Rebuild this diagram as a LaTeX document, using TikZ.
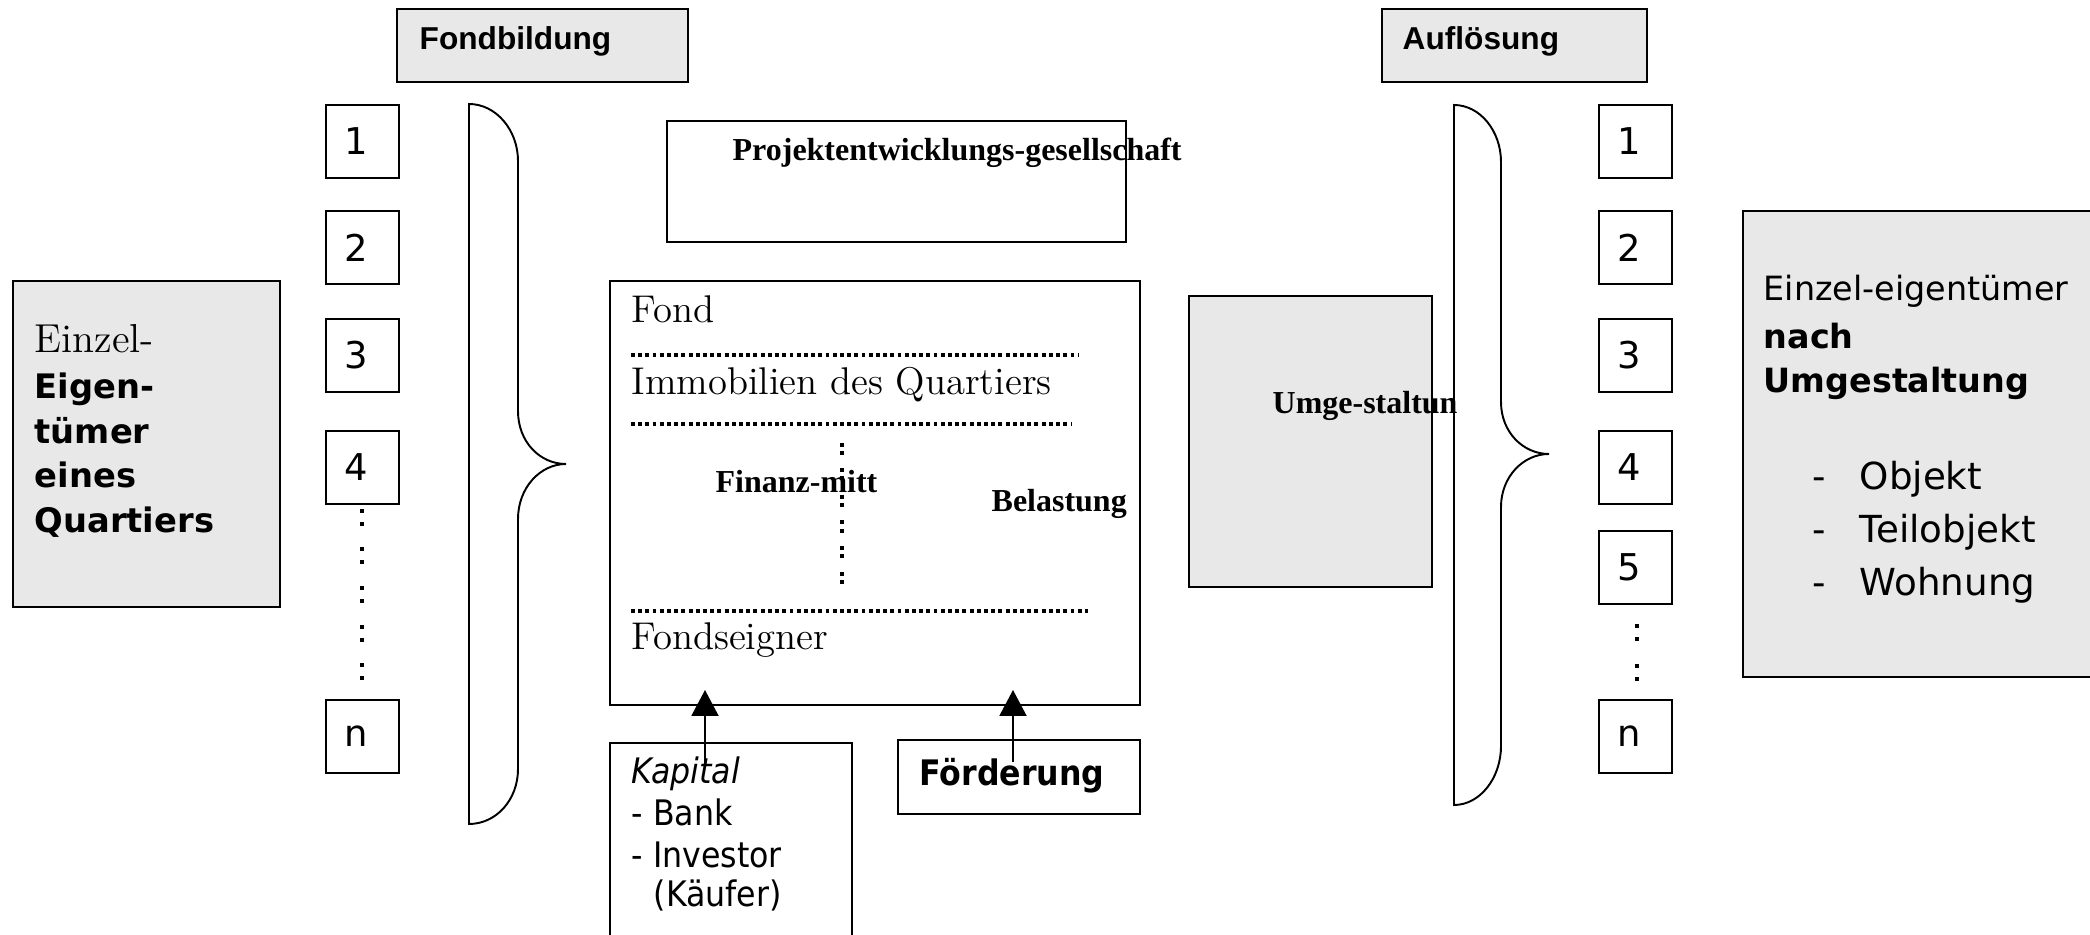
\documentclass[tikz,border=0pt]{standalone}
\usepackage{fontspec}
\newfontfamily\verdfont{DejaVu Sans}
\newfontfamily\tahofont{DejaVu Sans Condensed}
\newfontfamily\arialfont{Liberation Sans}
\newfontfamily\timesfont{Liberation Serif}
\usetikzlibrary{arrows.meta, positioning, calc}

\begin{document}
\begin{tikzpicture}[x=0.1mm, y=-0.1mm,
  box/.style={draw, line width=0.45pt, inner sep=0pt, anchor=north west},
  grey/.style={box, fill=gray!18},
  num/.style={box, minimum width=7.3mm, minimum height=7.35mm, font=\verdfont\fontsize{10.5}{12}\selectfont},
  lbl/.style={inner sep=0pt, anchor=base west},
  hdr/.style={lbl, font=\arialfont\bfseries\fontsize{9}{11}\selectfont},
  srf/.style={lbl, font=\fontsize{11}{13}\selectfont},
  tms/.style={lbl, font=\timesfont\bfseries\fontsize{9.1}{11}\selectfont},
  vrd/.style={lbl, font=\verdfont\fontsize{9.5}{12}\selectfont},
  tho/.style={lbl, font=\tahofont\fontsize{10}{12}\selectfont},
  dotline/.style={line width=1.1pt, dash pattern=on 1.1pt off 0.95pt},
  arr/.style={-{Triangle[width=2.7mm, length=2.6mm]}, line width=0.6pt},
  brace/.style={line width=0.55pt, fill=white}]

  \useasboundingbox (0,0) rectangle (2090,935);

  % --- phase headers ---
  \node[grey, minimum width=29.1mm, minimum height=7.3mm] (bildBox) at (396,8) {};
  \node[hdr] (bildTxt) at (419,50) {Fondbildung};
  \node[grey, minimum width=26.5mm, minimum height=7.3mm] (aufBox) at (1381,8) {};
  \node[hdr] (aufTxt) at (1402,50) {Auflösung};

  % --- owners before ---
  \node[grey, minimum width=26.7mm, minimum height=32.6mm] (ownBox) at (12,280) {};
  \node[lbl, font=\fontsize{11.5}{13}\selectfont] (own1) at (34,353) {Einzel-};
  \node[vrd, font=\verdfont\bfseries\fontsize{9.6}{12}\selectfont] (own2) at (34,399) {Eigen-};
  \node[vrd, font=\verdfont\bfseries\fontsize{9.6}{12}\selectfont] (own3) at (34,444) {tümer};
  \node[vrd, font=\verdfont\bfseries\fontsize{9.6}{12}\selectfont] (own4) at (34,488) {eines};
  \node[vrd, font=\verdfont\bfseries\fontsize{9.6}{12}\selectfont] (own5) at (34,533) {Quartiers};

  % --- numbered parcels ---
  \foreach \t/\y in {1/104, 2/210, 3/318, 4/430, n/699}
    \node[num] (lp\t) at (325,\y) {\t\kern1.2mm};
  \foreach \t/\y in {1/104, 2/210, 3/318, 4/430, 5/530, n/699}
    \node[num] (rp\t) at (1598,\y) {\t\kern1.2mm};
  \foreach \y in {511, 524, 549, 562, 588, 601, 627, 640, 665, 678}
    \fill (360,\y-2) rectangle (364,\y+2);
  \foreach \y in {626, 639, 666, 679}
    \fill (1635,\y-2) rectangle (1639,\y+2);

  % --- braces ---
  \draw[brace] (469,104) .. controls (496,104) and (518,130) .. (518,161)
    -- (518,411) .. controls (518,442) and (540,464) .. (566,464)
    .. controls (540,464) and (518,488) .. (518,519)
    -- (518,769) .. controls (518,800) and (496,824) .. (469,824) -- cycle;
  \draw[brace] (1454,105) .. controls (1480,105) and (1501,131) .. (1501,162)
    -- (1501,402) .. controls (1501,432) and (1523,454) .. (1549,454)
    .. controls (1523,454) and (1501,477) .. (1501,507)
    -- (1501,746) .. controls (1501,778) and (1480,805) .. (1454,805) -- cycle;

  % --- project company ---
  \node[box, minimum width=45.9mm, minimum height=12.1mm] (pgBox) at (666,120) {};
  \node[tms] (pgTxt) at (732,161) {Projektentwicklungs-gesellschaft};

  % --- fund ---
  \node[box, minimum width=53mm, minimum height=42.4mm] (fond) at (609,280) {};
  \node[srf] (fondTxt) at (631,323) {Fond};
  \draw[dotline] (631,355) -- (1078,355);
  \node[srf] (immoTxt) at (631,395) {Immobilien des Quartiers};
  \draw[dotline] (631,424) -- (1071,424);
  \node[tms] (finTxt) at (715,493) {Finanz-mitt};
  \node[tms] (belTxt) at (991,512) {Belastung};
  \foreach \y in {445, 453, 470, 478, 497, 505, 522, 531, 548, 556, 574, 582}
    \fill (840,\y-2) rectangle (844,\y+2);
  \draw[dotline] (631,611) -- (1088,611);
  \node[srf] (eignTxt) at (631,650) {Fondseigner};

  % --- capital and subsidy ---
  \node[box, minimum width=24.2mm, minimum height=21mm] (kapBox) at (609,742) {};
  \node[tho, font=\tahofont\itshape\fontsize{10}{12}\selectfont] (kap1) at (631,784) {Kapital};
  \node[tho] (kap2) at (631,826) {- Bank};
  \node[tho] (kap3) at (631,867) {- Investor};
  \node[tho] (kap4) at (653,907) {(Käufer)};
  \node[box, minimum width=24.2mm, minimum height=7.4mm] (foeBox) at (897,739) {};
  \node[tho, font=\tahofont\bfseries\fontsize{10}{12}\selectfont] (foeTxt) at (919,786) {Förderung};

  \coordinate (kapTail) at (705,765);
  \coordinate (kapHead) at (705,690);
  \coordinate (foeTail) at (1013,762);
  \coordinate (foeHead) at (1013,690);
  \draw[arr] (kapTail) -- (kapHead);
  \draw[arr] (foeTail) -- (foeHead);

  % --- redesign ---
  \node[grey, minimum width=24.3mm, minimum height=29.1mm] (umgBox) at (1188,295) {};
  \node[tms] (umgTxt) at (1272,414) {Umge-staltun};

  % --- owners after ---
  \node[grey, minimum width=36mm, minimum height=46.6mm] (nachBox) at (1742,210) {};
  \node[vrd] (nach1) at (1763,301) {Einzel-eigentümer};
  \node[vrd, font=\verdfont\bfseries\fontsize{9.5}{12}\selectfont] (nach2) at (1763,349) {nach};
  \node[vrd, font=\verdfont\bfseries\fontsize{9.5}{12}\selectfont] (nach3) at (1763,393) {Umgestaltung};
  \foreach \t/\y [count=\i] in {Objekt/490, Teilobjekt/543, Wohnung/596} {
    \node[vrd, font=\verdfont\fontsize{10.6}{13}\selectfont] (dash\i) at (1812,\y) {-};
    \node[vrd, font=\verdfont\fontsize{10.6}{13}\selectfont] (item\i) at (1859,\y) {\t};
  }
\end{tikzpicture}
\end{document}
